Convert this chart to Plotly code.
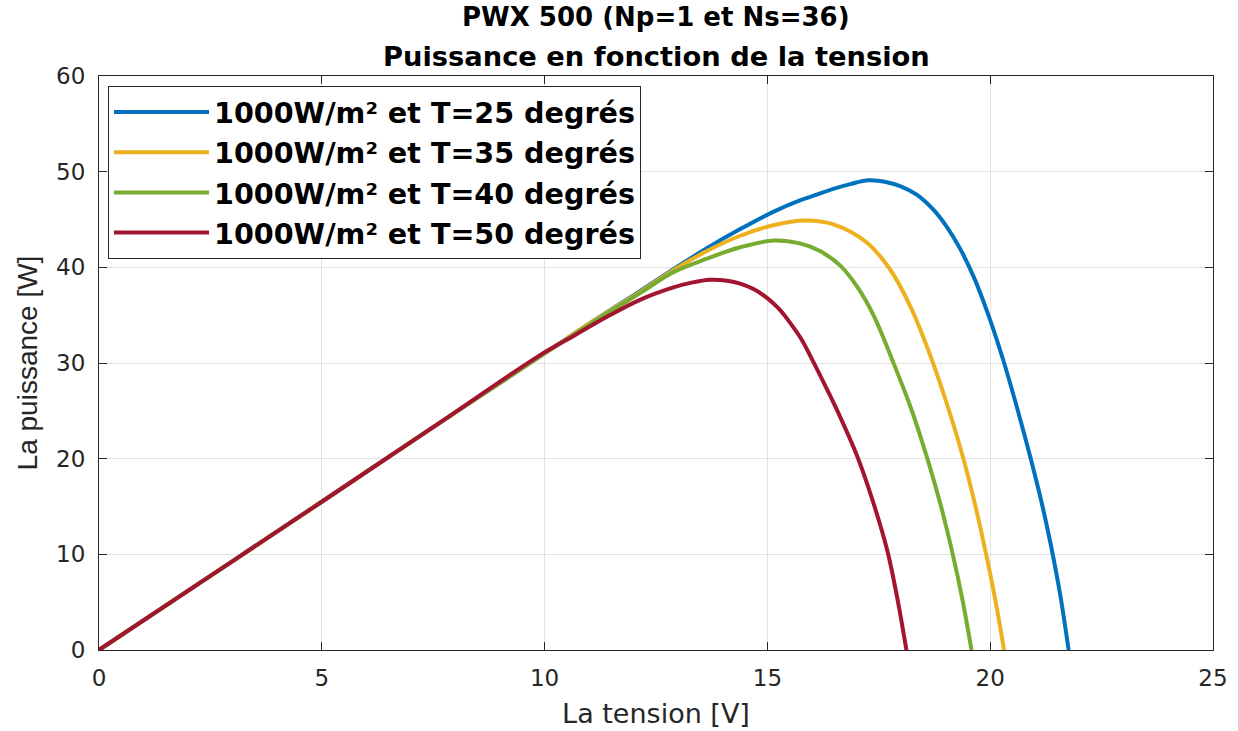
import plotly.graph_objects as go

# Values (voltage V, power W)
v_25 = [0, 2.5, 5, 7.5, 10, 11, 12, 12.89, 13.64, 14.39, 15.13, 15.73, 16.11, 16.48, 16.86, 17.27, 17.68,
        17.98, 18.35, 18.73, 19.03, 19.33, 19.63, 19.93, 20.28, 20.61, 20.91, 21.15, 21.36, 21.57, 21.76]
p_25 = [0, 7.75, 15.5, 23.3, 31.0, 34.1, 37.1, 39.8, 42.0, 44.0, 45.8, 47.0, 47.6, 48.2, 48.7, 49.1, 48.9,
        48.5, 47.6, 46.0, 44.2, 41.9, 39.0, 35.4, 30.5, 25.2, 20.0, 15.5, 11.0, 5.8, 0]

v_35 = [0, 2.5, 5, 7.5, 10, 11, 12, 12.89, 13.64, 14.39, 15.13, 15.83, 16.48, 17.23, 17.75, 18.2,
        18.67, 19.05, 19.38, 19.66, 19.90, 20.12, 20.31]
p_35 = [0, 7.75, 15.5, 23.3, 31.0, 34.1, 37.0, 39.7, 41.7, 43.3, 44.4, 44.9, 44.5, 42.6, 39.8, 36.0,
        30.6, 25.4, 20.3, 15.2, 10.2, 5.1, 0]

v_40 = [0, 2.5, 5, 7.5, 10, 11, 11.39, 12.14, 12.89, 13.64, 14.39, 15.14, 15.73, 16.18, 16.63, 17.01,
        17.38, 17.83, 18.22, 18.59, 18.88, 19.15, 19.38, 19.58]
p_40 = [0, 7.75, 15.5, 23.3, 31.0, 34.0, 35.15, 37.3, 39.5, 40.9, 42.1, 42.8, 42.5, 41.7, 40.2, 38.0,
        35.0, 30.0, 25.3, 20.0, 15.3, 10.2, 5.2, 0]

v_50 = [0, 2.5, 5, 7.5, 9.89, 10.64, 11.39, 12.14, 12.89, 13.3, 13.71, 14.1, 14.39, 14.7, 14.99, 15.25,
        15.51, 15.76, 16.01, 16.28, 16.55, 17.02, 17.37, 17.69, 17.92, 18.12]
p_50 = [0, 7.75, 15.5, 23.3, 30.8, 32.8, 34.8, 36.6, 37.9, 38.4, 38.7, 38.6, 38.3, 37.7, 36.8, 35.7,
        34.2, 32.5, 30.3, 27.8, 25.2, 20.2, 15.5, 10.4, 5.3, 0]

names = ["1000W/m² et T=25 degrés", "1000W/m² et T=35 degrés",
         "1000W/m² et T=40 degrés", "1000W/m² et T=50 degrés"]
colors = ["#0072BD", "#EDB120", "#77AC30", "#A2142F"]
series = [(v_25, p_25), (v_35, p_35), (v_40, p_40), (v_50, p_50)]

x_ticks = [0, 5, 10, 15, 20, 25]
y_ticks = [0, 10, 20, 30, 40, 50, 60]
title_lines = ["PWX 500 (Np=1 et Ns=36)", "Puissance en fonction de la tension"]

fig = go.Figure()
for i, ((vx, py), nm, col) in enumerate(zip(series, names, colors)):
    fig.add_trace(go.Scatter(
        x=vx, y=py, mode="lines", name=nm, legendgroup=f"g{i}",
        line=dict(color=col, width=4, shape="spline", smoothing=1.0),
    ))

axis_common = dict(
    showline=True, linecolor="#262626", linewidth=1, mirror="allticks",
    ticks="inside", ticklen=8, tickcolor="#262626", automargin=False,
    showgrid=True, gridcolor="#e2e2e2", gridwidth=1, zeroline=False,
    tickfont=dict(family="DejaVu Sans", size=23, color="#262626"),
)

fig.update_layout(
    width=1238, height=731,
    paper_bgcolor="white", plot_bgcolor="white",
    margin=dict(l=99, r=25, t=76, b=81),
    xaxis=dict(range=[0, 25], tickvals=x_ticks, ticklabelstandoff=7,
               title=dict(text="La tension [V]", standoff=14,
                          font=dict(family="DejaVu Sans", size=27, color="#262626")),
               **axis_common),
    yaxis=dict(range=[0, 60], tickvals=y_ticks, ticklabelstandoff=8,
               title=dict(text="La puissance [W]", standoff=10,
                          font=dict(family="Liberation Sans, Arial", size=28, color="#262626")),
               **axis_common),
    legend=dict(
        x=0.0081, y=0.9826, xanchor="left", yanchor="top",
        bgcolor="white", bordercolor="#262626", borderwidth=1,
        font=dict(family="DejaVu Sans", size=28.6, color="black", weight="bold"),
        itemwidth=95, tracegroupgap=0,
    ),
)

fig.add_annotation(text=f"<b>{title_lines[0]}</b>", xref="paper", yref="paper",
                   x=0.5, y=1 + 59 / 574, xanchor="center", yanchor="middle", showarrow=False,
                   font=dict(family="DejaVu Sans", size=26, color="black"))
fig.add_annotation(text=f"<b>{title_lines[1]}</b>", xref="paper", yref="paper",
                   x=0.5, y=1 + 20 / 574, xanchor="center", yanchor="middle", showarrow=False,
                   font=dict(family="DejaVu Sans", size=27.3, color="black"))

# remove the default 8px page margin so the figure fills the window exactly
fig.write_html("out.html", config={"displayModeBar": False},
               post_script="document.body.style.margin='0';")
